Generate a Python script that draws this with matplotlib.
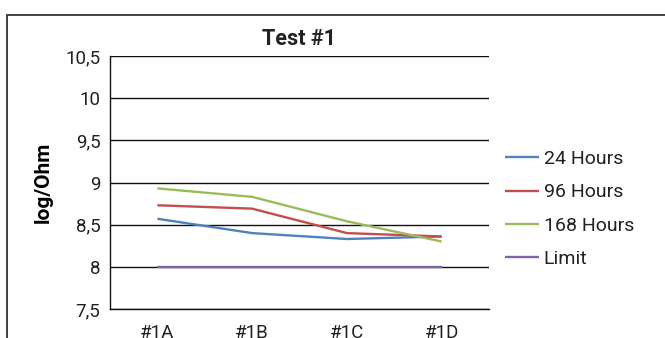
import matplotlib

matplotlib.use("Agg")
import matplotlib.pyplot as plt
from matplotlib.patches import Rectangle
from matplotlib.ticker import FuncFormatter, MultipleLocator

# resistance readings per test piece, log10(Ohm)
CATEGORIES = ["#1A", "#1B", "#1C", "#1D"]
HOURS_24 = [8.57, 8.40, 8.33, 8.36]
HOURS_96 = [8.73, 8.69, 8.40, 8.36]
HOURS_168 = [8.93, 8.83, 8.54, 8.30]
LIMIT = [8.0, 8.0, 8.0, 8.0]

SERIES = [
    ("24 Hours", HOURS_24, "#4F81BD"),
    ("96 Hours", HOURS_96, "#C0504D"),
    ("168 Hours", HOURS_168, "#9BBB59"),
    ("Limit", LIMIT, "#8064A2"),
]

W, H = 665, 338
plt.rcParams.update(
    {
        "font.family": ["Roboto", "DejaVu Sans"],
        "font.size": 13.5,
        "text.color": "#222222",
    }
)

fig = plt.figure(figsize=(W / 100, H / 100), dpi=100)
fig.patch.set_facecolor("white")

# outer chart frame (runs off the right and bottom edges)
fig.patches.append(
    Rectangle(
        (7 / W, -0.1),
        1.2,
        (H - 15) / H + 0.1,
        transform=fig.transFigure,
        fill=False,
        edgecolor="#333333",
        linewidth=1.3,
    )
)

left, right, top, bottom = 110, 489, 56, 309
ax = fig.add_axes([left / W, (H - bottom) / H, (right - left) / W, (bottom - top) / H])

x = range(len(CATEGORIES))
for label, values, color in SERIES:
    ax.plot(x, values, color=color, linewidth=1.7, label=label, solid_capstyle="butt")

ax.set_xlim(-0.5, len(CATEGORIES) - 0.5)
ax.set_ylim(7.5, 10.5)
ax.yaxis.set_major_locator(MultipleLocator(0.5))
ax.yaxis.set_major_formatter(FuncFormatter(lambda v, _: f"{v:g}".replace(".", ",")))
ax.set_xticks(list(x), labels=CATEGORIES)
ax.tick_params(axis="both", length=0, labelsize=13.5, colors="#222222")
ax.tick_params(axis="x", pad=11)
ax.tick_params(axis="y", pad=7)

ax.grid(axis="y", color="#111111", linewidth=1.0)
ax.set_axisbelow(True)
for side in ("top", "right"):
    ax.spines[side].set_visible(False)
for side in ("left", "bottom"):
    ax.spines[side].set_color("#111111")
    ax.spines[side].set_linewidth(1.0)

ax.set_title("Test #1", fontsize=15.5, fontweight="bold", pad=8)
ax.set_ylabel("log/Ohm", fontsize=15, fontweight="bold", labelpad=9)

ax.legend(
    loc="center left",
    bbox_to_anchor=(497 / W, (H - 209) / H),
    bbox_transform=fig.transFigure,
    frameon=False,
    fontsize=14,
    handlelength=1.75,
    handletextpad=0.25,
    labelspacing=0.78,
    borderaxespad=0,
)

fig.savefig("out.png", dpi=100, facecolor="white")
